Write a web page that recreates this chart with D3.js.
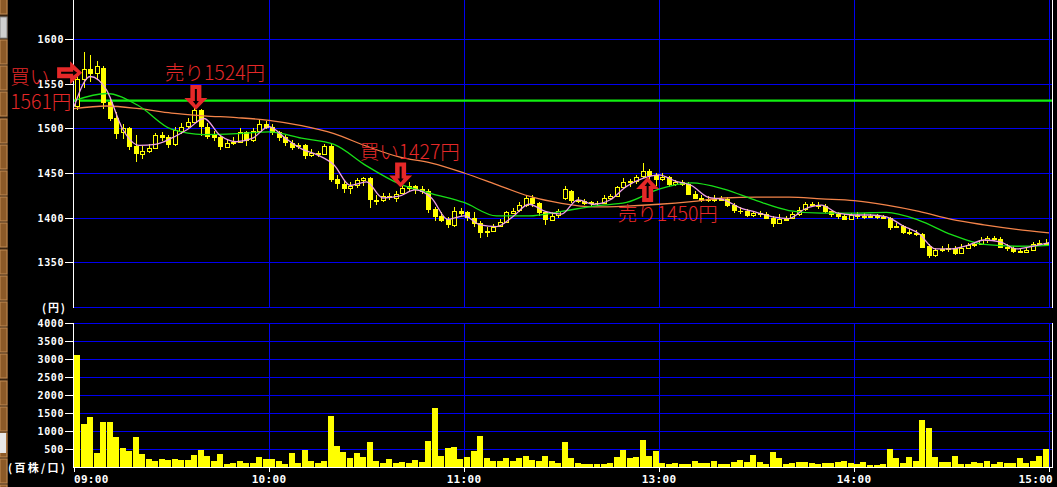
<!DOCTYPE html>
<html>
<head>
<meta charset="utf-8">
<script src="https://cdn.jsdelivr.net/npm/d3@7/dist/d3.min.js"></script>
<style>
body { margin: 0; background: #000; overflow: hidden; }
svg { display: block; }
</style>
</head>
<body>
<div id="chart"></div>
<script>
// trading sessions, one candle every 2 minutes
var sessions = [["09:00", "11:30"], ["12:30", "15:00"]];
var barMinutes = 2;

var open = [
  1525,1555,1566,1562,1568,1530,1512,1495,1500,1480, 1472,1475,1478,1492,1490,1482,1498,1502,1507,1520,
  1502,1492,1490,1480,1484,1485,1496,1487,1497,1505, 1502,1496,1490,1484,1480,1481,1470,1472,1471,1480,
  1443,1438,1434,1436,1442,1444,1420,1419,1424,1423, 1427,1433,1435,1432,1430,1410,1402,1398,1392,1408,
  1406,1400,1394,1384,1385,1390,1395,1406,1408,1414, 1422,1416,1406,1398,1402,
  1422,1430,1420,1419,1417,1416,1416,1422,1424,1434, 1440,1441,1446,1452,1448,1444,1446,1438,1440,1438,
  1427,1422,1420,1421,1420,1421,1414,1408,1408,1403, 1405,1404,1400,1394,1398,1399,1404,1409,1415,1414,
  1413,1407,1404,1402,1399,1403,1402,1401,1402,1401, 1400,1390,1391,1384,1383,1382,1368,1358,1364,1365,
  1366,1360,1366,1369,1370,1375,1377,1376,1367,1366, 1363,1362,1364,1371,1372
];
var close = [
  1555,1566,1562,1570,1530,1512,1495,1500,1480,1472, 1475,1478,1492,1490,1482,1498,1502,1507,1520,1502,
  1492,1490,1480,1484,1485,1496,1487,1497,1505,1502, 1496,1490,1484,1480,1481,1470,1472,1471,1480,1443,
  1438,1434,1436,1442,1444,1420,1419,1424,1423,1427, 1433,1435,1432,1430,1410,1402,1398,1392,1408,1406,
  1400,1394,1384,1385,1390,1395,1406,1408,1414,1422, 1416,1406,1398,1402,1407,
  1432,1420,1419,1417,1416,1416,1422,1424,1434,1440, 1441,1446,1452,1448,1444,1446,1438,1440,1438,1427,
  1422,1420,1421,1420,1421,1414,1408,1408,1403,1405, 1404,1400,1394,1398,1399,1404,1409,1415,1414,1413,
  1407,1404,1402,1399,1403,1402,1401,1402,1401,1400, 1390,1391,1384,1383,1382,1368,1358,1364,1365,1366,
  1360,1366,1369,1370,1375,1377,1376,1367,1366,1363, 1362,1364,1371,1372,1371
];
var high = [
  1565,1586,1582,1575,1570,1533,1518,1505,1502,1492, 1480,1482,1495,1496,1492,1502,1506,1512,1524,1522,
  1506,1497,1493,1488,1490,1500,1497,1500,1510,1508, 1505,1497,1492,1487,1484,1482,1477,1475,1483,1482,
  1448,1442,1440,1444,1446,1446,1425,1428,1428,1430, 1436,1440,1437,1436,1432,1412,1406,1401,1412,1411,
  1408,1406,1396,1390,1393,1399,1408,1411,1418,1425, 1425,1418,1408,1406,1410,
  1436,1431,1423,1421,1419,1419,1425,1427,1436,1444, 1443,1448,1461,1454,1450,1450,1447,1442,1442,1440,
  1430,1425,1424,1425,1424,1423,1416,1412,1410,1408, 1407,1406,1402,1404,1402,1406,1412,1418,1417,1417,
  1415,1408,1406,1404,1405,1406,1405,1404,1404,1403, 1401,1394,1392,1387,1386,1383,1370,1366,1368,1370,
  1368,1370,1372,1373,1378,1380,1379,1378,1370,1368, 1365,1366,1373,1375,1376
];
var low = [
  1520,1545,1552,1555,1522,1508,1488,1488,1476,1462, 1466,1472,1477,1486,1478,1480,1494,1500,1506,1491,
  1488,1486,1476,1478,1481,1484,1480,1485,1496,1499, 1493,1486,1480,1476,1477,1466,1468,1468,1470,1440,
  1432,1428,1427,1433,1436,1411,1414,1418,1420,1418, 1426,1430,1426,1427,1405,1396,1395,1388,1390,1402,
  1396,1390,1377,1378,1384,1389,1394,1404,1406,1412, 1412,1402,1392,1396,1400,
  1420,1416,1416,1414,1413,1413,1415,1420,1423,1433, 1434,1438,1444,1438,1436,1441,1434,1435,1436,1425,
  1421,1418,1418,1418,1419,1412,1405,1404,1401,1401, 1401,1399,1390,1393,1397,1398,1402,1407,1412,1410,
  1405,1401,1399,1397,1398,1399,1399,1400,1399,1399, 1386,1388,1382,1381,1380,1367,1355,1356,1362,1362,
  1358,1359,1365,1367,1370,1372,1374,1366,1363,1361, 1360,1361,1363,1369,1369
];
// 百株
var volume = [
  3100,1200,1400,380,1250,1250,820,540,450,840, 370,210,180,210,200,220,190,200,330,470,
  300,160,360,90,100,180,110,100,290,220, 210,170,90,380,120,470,160,100,170,1420,
  580,410,240,380,290,700,180,100,220,120, 150,110,190,150,720,1630,300,540,560,220,
  280,450,860,250,180,160,260,180,250,300, 200,160,300,170,110,
  700,240,120,80,70,70,90,110,280,480, 240,280,750,300,450,100,70,120,80,90,
  170,120,100,170,80,90,140,190,150,330, 140,90,410,240,70,110,140,140,100,80,
  100,120,140,170,120,90,140,60,60,90, 490,240,100,290,170,1300,1070,290,150,140,
  300,80,80,140,110,180,80,150,110,100, 240,110,160,300,490
];

// moving averages, pink every 5 min, green / orange every 10 min
var maShortStep = 5;
var maShort = [
  1524,1558,1543,1499,1481,1482,1489,1499,1511,1492,1485,1489,1502,
  1489,1477,1470,1459,1436,1440,1422,1424,1431,1422,1398,1402,
  1392,1390,1401,1415,1407,1404,1420,1415,1420,1435,1444,1448,
  1441,1436,1423,1420,1411,1406,1401,1399,1410,1414,1405,1403,
  1403,1401,1391,1382,1365,1365,1369,1375,1373,1365,1368,1372
];
var maMidStep = 10;
var maMid = [
  1531,1539,1525,1499,1493,1494,1496,1489,1482,1458,1438,1427,1417,
  1402,1402,1407,1413,1417,1432,1439,1432,1419,1408,1405,1405,
  1406,1397,1381,1370,1368,1369
];
var maLongStep = 10;
var maLong = [
  1522,1525,1522,1517,1514,1512,1509,1503,1494,1480,1468,1461,1450,
  1437,1424,1416,1412,1413,1415,1418,1422,1423,1423,1421,1419,
  1414,1407,1398,1392,1387,1383
];
var markLine = 1531;

var priceTicks = [1600, 1550, 1500, 1450, 1400, 1350];
var volumeTicks = [4000, 3500, 3000, 2500, 2000, 1500, 1000, 500];
var timeTicks = ["09:00", "10:00", "11:00", "13:00", "14:00", "15:00"];

var notes = [
  {text: ["買い", "1561円"], time: "09:02", price: 1561, dir: "right"},
  {text: ["売り1524円"], time: "09:37", price: 1524, dir: "down"},
  {text: ["買い1427円"], time: "10:40", price: 1427, dir: "down"},
  {text: ["売り1450円"], time: "12:56", price: 1450, dir: "up"}
];

function toMin(t) { var p = t.split(":"); return +p[0] * 60 + +p[1]; }
function sessionMin(t) {
  var m = toMin(t), total = 0;
  for (var i = 0; i < sessions.length; i++) {
    var a = toMin(sessions[i][0]), b = toMin(sessions[i][1]);
    if (m <= b) return total + Math.max(0, m - a);
    total += b - a;
  }
  return total;
}
function pad(n) { return (n < 10 ? "0" : "") + n; }

// bar times
var times = [];
sessions.forEach(function(s) {
  for (var m = toMin(s[0]); m < toMin(s[1]); m += barMinutes)
    times.push(pad(Math.floor(m / 60)) + ":" + pad(m % 60));
});
var totalMin = sessionMin(sessions[sessions.length - 1][1]);

var W = 1057, H = 487;
var svg = d3.select("#chart").append("svg").attr("width", W).attr("height", H);
svg.append("rect").attr("width", W).attr("height", H).attr("fill", "#000");

var axisL = 73, axisR = 1052;
var x = d3.scaleLinear().domain([0, totalMin]).range([74, 1049]);
var y = d3.scaleLinear().domain([1300, 1600]).range([307, 39]);
var yv = d3.scaleLinear().domain([0, 4000]).range([467, 323]);

var blue = "#0000f0";
var crisp = function(v) { return Math.round(v) + 0.5; };

// left button strip
var strip = svg.append("g");
strip.append("rect").attr("x", 0).attr("y", 0).attr("width", 8).attr("height", H).attr("fill", "#3a2410");
var btnY = [-10].concat(d3.range(40, H, 26.2));
btnY.forEach(function(b) {
  strip.append("rect").attr("x", 0).attr("y", Math.round(b)).attr("width", 7).attr("height", 24)
    .attr("fill", "#8c5a28").attr("stroke", "#c08a52").attr("stroke-width", 1);
});
strip.append("rect").attr("x", 0).attr("y", 17).attr("width", 7).attr("height", 21)
  .attr("fill", "#cfcfcf").attr("stroke", "#8c8c8c");
strip.append("rect").attr("x", 0).attr("y", 433).attr("width", 6).attr("height", 20).attr("fill", "#e8e8e8");

// grid
var grid = svg.append("g").attr("shape-rendering", "crispEdges");
priceTicks.concat([1300]).forEach(function(v) {
  grid.append("line").attr("x1", axisL).attr("x2", axisR).attr("y1", crisp(y(v))).attr("y2", crisp(y(v)))
    .attr("stroke", blue);
});
volumeTicks.forEach(function(v) {
  grid.append("line").attr("x1", axisL).attr("x2", axisR).attr("y1", crisp(yv(v))).attr("y2", crisp(yv(v)))
    .attr("stroke", blue);
});
timeTicks.slice(1).forEach(function(t) {
  var xx = crisp(x(sessionMin(t)));
  grid.append("line").attr("x1", xx).attr("x2", xx).attr("y1", 0).attr("y2", y(1300)).attr("stroke", blue);
  grid.append("line").attr("x1", xx).attr("x2", xx).attr("y1", yv(4000)).attr("y2", yv(0)).attr("stroke", blue);
});

// marked price line
svg.append("line").attr("x1", axisL).attr("x2", axisR).attr("y1", y(markLine)).attr("y2", y(markLine))
  .attr("stroke", "#10f010").attr("stroke-width", 2.2);

// volume
var barW = x(barMinutes) - x(0);
svg.append("g").attr("shape-rendering", "crispEdges").selectAll("rect").data(times).enter().append("rect")
  .attr("x", function(t) { return Math.round(x(sessionMin(t))); })
  .attr("width", Math.round(barW) - 1)
  .attr("y", function(t, i) { return yv(volume[i]); })
  .attr("height", function(t, i) { return yv(0) - yv(volume[i]); })
  .attr("fill", "#ffff00");

// candles
var candles = svg.append("g").attr("shape-rendering", "crispEdges");
times.forEach(function(t, i) {
  var cx = Math.round(x(sessionMin(t) + barMinutes / 2));
  candles.append("line").attr("x1", cx + 0.5).attr("x2", cx + 0.5)
    .attr("y1", y(high[i])).attr("y2", y(low[i])).attr("stroke", "#ffff00");
  var top = y(Math.max(open[i], close[i])), bot = y(Math.min(open[i], close[i]));
  if (close[i] > open[i]) {
    candles.append("rect").attr("x", cx - 1.5).attr("y", Math.round(top) + 0.5)
      .attr("width", 4).attr("height", Math.max(1, Math.round(bot - top)))
      .attr("fill", "#000").attr("stroke", "#ffff00");
  } else {
    candles.append("rect").attr("x", cx - 2).attr("y", Math.round(top))
      .attr("width", 5).attr("height", Math.max(1, Math.round(bot - top) + 1))
      .attr("fill", "#ffff00");
  }
});

// moving average lines
function maLine(vals, step, color) {
  var line = d3.line().x(function(d, i) { return x(i * step); }).y(function(d) { return y(d); })
    .curve(d3.curveMonotoneX);
  svg.append("path").datum(vals).attr("d", line).attr("fill", "none")
    .attr("stroke", color).attr("stroke-width", 1.3);
}
maLine(maLong, maLongStep, "#f4844a");
maLine(maMid, maMidStep, "#18e018");
maLine(maShort, maShortStep, "#f0a0e8");

// axes
var ax = svg.append("g").attr("shape-rendering", "crispEdges");
[axisL + 0.5, axisR + 0.5].forEach(function(xx) {
  ax.append("line").attr("x1", xx).attr("x2", xx).attr("y1", 0).attr("y2", y(1300) + 1).attr("stroke", "#fff");
  ax.append("line").attr("x1", xx).attr("x2", xx).attr("y1", yv(4000)).attr("y2", yv(0)).attr("stroke", "#fff");
});
ax.append("line").attr("x1", axisL).attr("x2", axisR + 1).attr("y1", yv(0) + 0.5).attr("y2", yv(0) + 0.5)
  .attr("stroke", "#fff");

var numFont = "'DejaVu Sans Mono', monospace";
function leftLabel(v, yy) {
  ax.append("line").attr("x1", 65).attr("x2", axisL).attr("y1", crisp(yy)).attr("y2", crisp(yy)).attr("stroke", "#fff");
  svg.append("text").attr("x", 64).attr("y", yy + 4).attr("text-anchor", "end")
    .attr("fill", "#fff").attr("font-family", numFont).attr("font-weight", "bold")
    .attr("font-size", 10).attr("letter-spacing", 0.6).text(v);
}
priceTicks.forEach(function(v) { leftLabel(v, y(v)); });
volumeTicks.forEach(function(v) { leftLabel(v, yv(v)); });

svg.append("text").attr("x", 42).attr("y", y(1300) + 5).attr("fill", "#fff")
  .attr("font-family", "'Noto Sans CJK JP', sans-serif").attr("font-weight", "bold").attr("font-size", 11)
  .attr("textLength", 23).attr("lengthAdjust", "spacing").text("(円)");
svg.append("text").attr("x", 8).attr("y", yv(0) + 5).attr("fill", "#fff")
  .attr("font-family", "'Noto Sans CJK JP', sans-serif").attr("font-weight", "bold").attr("font-size", 11)
  .attr("textLength", 57).attr("lengthAdjust", "spacing").text("(百株/口)");

timeTicks.forEach(function(t, i) {
  var xx = x(sessionMin(t));
  ax.append("line").attr("x1", crisp(xx)).attr("x2", crisp(xx)).attr("y1", yv(0)).attr("y2", yv(0) + 5).attr("stroke", "#fff");
  var anchor = i === 0 ? "start" : (i === timeTicks.length - 1 ? "end" : "middle");
  svg.append("text").attr("x", i === timeTicks.length - 1 ? axisR + 1 : xx).attr("y", 483)
    .attr("text-anchor", anchor).attr("fill", "#fff").attr("font-family", numFont)
    .attr("font-weight", "bold").attr("font-size", 11).attr("letter-spacing", 0.3).text(t);
});

// trade notes
var red = "#e52828";
var noteLayout = [
  {tipDy: -1, dx: -72, dy: [11, 36]},
  {tipDy: 3, dx: -31, dy: [-30]},
  {tipDy: -6, dx: -41, dy: [-29]},
  {tipDy: 4, dx: -30, dy: [44]}
];
var rot = {down: 0, up: 180, right: -90};
notes.forEach(function(n, i) {
  var L = noteLayout[i];
  var tx = x(sessionMin(n.time) + 0.5), ty = y(n.price) + L.tipDy;
  var g = svg.append("g").attr("transform", "translate(" + tx + "," + ty + ") rotate(" + rot[n.dir] + ")");
  // block arrow pointing down, tip at origin
  g.append("path").attr("d", "M-5.5,-25 L5.5,-25 L5.5,-12 L11.5,-12 L0,0 L-11.5,-12 L-5.5,-12 Z").attr("fill", red);
  g.append("path").attr("d", "M-1,-21 L1,-21 L1,-9 L3,-9 L0,-5 L-3,-9 L-1,-9 Z").attr("fill", "#000");
  n.text.forEach(function(s, k) {
    svg.append("text").attr("x", tx + L.dx).attr("y", ty + L.dy[k]).attr("fill", red)
      .attr("font-family", "'Noto Sans CJK JP', sans-serif").attr("font-weight", 300)
      .attr("font-size", 19.5).text(s);
  });
});
</script>
</body>
</html>
